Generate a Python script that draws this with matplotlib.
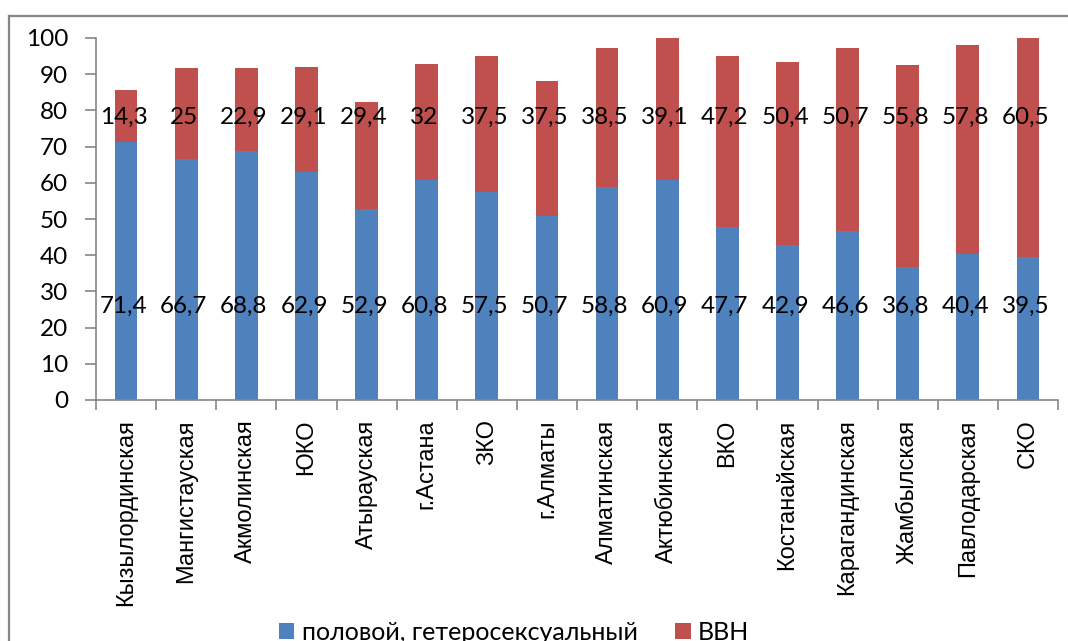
import matplotlib
matplotlib.use("Agg")
from matplotlib import pyplot as plt
from matplotlib.lines import Line2D
import numpy as np

regions = ["Кызылординская", "Мангистауская", "Акмолинская", "ЮКО", "Атырауская",
           "г.Астана", "ЗКО", "г.Алматы", "Алматинская", "Актюбинская", "ВКО",
           "Костанайская", "Карагандинская", "Жамбылская", "Павлодарская", "СКО"]
sexual = [71.4, 66.7, 68.8, 62.9, 52.9, 60.8, 57.5, 50.7, 58.8, 60.9, 47.7,
          42.9, 46.6, 36.8, 40.4, 39.5]
ivdu = [14.3, 25, 22.9, 29.1, 29.4, 32, 37.5, 37.5, 38.5, 39.1, 47.2,
        50.4, 50.7, 55.8, 57.8, 60.5]
series_names = ["половой, гетеросексуальный", "ВВН"]

BLUE = "#4F81BD"
RED = "#C0504D"
GREY = "#868686"
NUM_FONT = ["Lato", "Open Sans", "DejaVu Sans"]


def fmt(v):
    return ("%g" % v).replace(".", ",")


def main():
    fig = plt.figure(figsize=(10.68, 6.41), dpi=100)
    ax = fig.add_axes([96 / 1068, 1 - 400 / 641, (1058 - 96) / 1068, (400 - 38) / 641])

    x = np.arange(len(regions))
    ax.bar(x, sexual, width=0.38, color=BLUE, label=series_names[0])
    ax.bar(x, ivdu, width=0.38, bottom=sexual, color=RED, label=series_names[1])

    # value labels sit at roughly fixed heights in each band
    for xi, s, r in zip(x, sexual, ivdu):
        ax.text(xi - 0.04, 26, fmt(s), ha="center", va="center", fontsize=17.5, family=NUM_FONT)
        ax.text(xi - 0.04, 78, fmt(r), ha="center", va="center", fontsize=17.5, family=NUM_FONT)

    ax.set_xlim(-0.5, len(regions) - 0.5)
    ax.set_ylim(0, 100)
    ax.set_yticks(range(0, 101, 10))
    for lbl in ax.get_yticklabels():
        lbl.set_family(NUM_FONT)
        lbl.set_fontsize(17.5)
    ax.tick_params(axis="y", direction="out", length=8, width=1.2, color=GREY, pad=12)

    ax.set_xticks(x)
    ax.set_xticklabels(regions, rotation=90, fontsize=17, family="Liberation Sans",
                       va="top", ha="center")
    ax.set_xticks(np.arange(-0.5, len(regions)), minor=True)
    ax.tick_params(axis="x", which="major", length=0, pad=14)
    ax.tick_params(axis="x", which="minor", direction="out", length=7, width=1.2, color=GREY)

    for side in ("top", "right"):
        ax.spines[side].set_visible(False)
    for side in ("left", "bottom"):
        ax.spines[side].set_color(GREY)
        ax.spines[side].set_linewidth(1.2)

    # chart area border (right and bottom edges run off the canvas)
    top = 1 - 15.5 / 641
    left = 8.5 / 1068
    fig.add_artist(Line2D([left, 1.0], [top, top], transform=fig.transFigure,
                          color=GREY, linewidth=1.6, zorder=10))
    fig.add_artist(Line2D([left, left], [0.0, top], transform=fig.transFigure,
                          color=GREY, linewidth=1.6, zorder=10))

    # legend sits low and is partly clipped by the canvas edge
    fig.legend(loc="center", bbox_to_anchor=(514 / 1068, 1 - 632 / 641), ncol=2,
               frameon=False, prop={"family": NUM_FONT, "size": 18},
               handlelength=0.62, handleheight=0.62, handletextpad=0.3,
               columnspacing=1.5, borderpad=0)

    fig.savefig("out.png", dpi=100)


if __name__ == "__main__":
    main()
